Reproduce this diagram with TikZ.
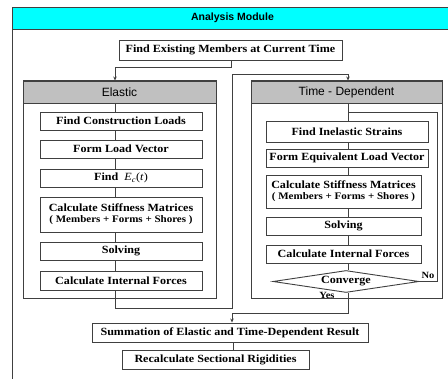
\documentclass[tikz,border=0pt]{standalone}
\usepackage{fontspec}
\setmainfont{Liberation Serif}[FakeStretch=1.1]
\newfontfamily\hdrfont{Liberation Sans}
\usetikzlibrary{arrows.meta,shapes.geometric}
\definecolor{ln}{HTML}{404040}
\definecolor{hdgray}{HTML}{C0C0C0}
\definecolor{cyanhd}{HTML}{00FFFF}
\begin{document}
\begin{tikzpicture}[x=1pt,y=-1pt,
  frame/.style={draw=ln, line width=1pt, inner sep=0pt},
  box/.style={draw=ln, line width=0.9pt, fill=white, inner sep=0pt, align=center, font=\fontsize{11}{12}\selectfont\bfseries},
  hdr/.style={draw=ln, line width=0.9pt, fill=hdgray, inner sep=0pt, font=\hdrfont\fontsize{12}{14}\selectfont},
  conn/.style={draw=ln, line width=0.8pt},
  arr/.style={conn, -{Stealth[length=4pt,width=3.5pt]}},
  lbl/.style={inner sep=0pt, font=\fontsize{9.5}{10}\selectfont\bfseries}
]
\useasboundingbox (0,0) rectangle (448,379);
\clip (0,0) rectangle (448,379);
\fill[white] (0,0) rectangle (448,379);

% outer frame and title
\node[frame, minimum width=441pt, minimum height=400pt, anchor=north west] (outer) at (12,7) {};
\node[frame, fill=cyanhd, minimum width=441pt, minimum height=22pt, anchor=north west] (title) at (12,7) {};
\node[inner sep=0pt, font=\hdrfont\bfseries\fontsize{10.5}{12}\selectfont] (titletext) at (232.5,18) {Analysis Module};

% first box
\node[box, minimum width=223pt, minimum height=20pt] (find) at (230.5,50) {Find Existing Members at Current Time};

% elastic group
\node[frame, minimum width=193pt, minimum height=218pt] (eframe) at (119.5,190) {};
\node[hdr, minimum width=193pt, minimum height=22pt] (eh) at (119.5,92) {Elastic};
\node[box, minimum width=162pt, minimum height=18pt] (e1) at (121,121) {Find Construction Loads};
\node[box, minimum width=162pt, minimum height=18pt] (e2) at (121,149) {Form Load Vector};
\node[box, minimum width=162pt, minimum height=18pt] (e3) at (121,178) {Find~~{\mdseries\itshape E}\textsubscript{\mdseries\itshape c}{\mdseries(\itshape t\/\upshape)}};
\node[box, minimum width=162pt, minimum height=35pt] (e4) at (121,214.5) {Calculate Stiffness Matrices\\[-1pt]{\fontsize{10}{11}\selectfont ( Members + Forms + Shores )}};
\node[box, minimum width=162pt, minimum height=18pt] (e5) at (121,251) {Solving};
\node[box, minimum width=162pt, minimum height=19pt] (e6) at (121,280.5) {Calculate Internal Forces};

% time-dependent group
\node[frame, minimum width=191pt, minimum height=218pt] (tframe) at (346.5,190) {};
\node[hdr, minimum width=191pt, minimum height=22pt] (th) at (346.5,92) {Time - Dependent};
\node[box, minimum width=162pt, minimum height=21pt] (t1) at (347,131.5) {Find Inelastic Strains};
\node[box, minimum width=162pt, minimum height=18pt] (t2) at (347,158) {Form Equivalent Load Vector};
\node[box, minimum width=155pt, minimum height=33pt] (t3) at (343.5,191.5) {Calculate Stiffness Matrices\\[-1pt]{\fontsize{10}{11}\selectfont ( Members + Forms + Shores )}};
\node[box, minimum width=155pt, minimum height=18pt] (t4) at (343.5,226) {Solving};
\node[box, minimum width=155pt, minimum height=18pt] (t5) at (343.5,254) {Calculate Internal Forces};
\node[box, diamond, aspect=6.6, minimum width=146pt, minimum height=22pt] (conv) at (346,281.5) {Converge};
\node[lbl] (no) at (428,275.5) {No};
\node[lbl] (yes) at (327,295.5) {Yes};

% bottom boxes
\node[box, minimum width=276pt, minimum height=19pt] (sum) at (230,332.5) {Summation of Elastic and Time-Dependent Result};
\node[box, minimum width=187pt, minimum height=19pt] (rec) at (215.5,359.5) {Recalculate Sectional Rigidities};

% helper coordinates
\coordinate (xl) at (115,0);
\coordinate (xr) at (348,0);
\coordinate (j1) at (231,67);
\coordinate (m1) at (232,308);
\coordinate (m2) at (232,74);
\coordinate (n1) at (437,112);
\coordinate (y1) at (348,313);
\coordinate (y2) at (232,313);
\coordinate (xs) at (233,0);

% connectors
\draw[arr] (find.south -| j1) -- (j1) -| (eh.north -| xl);
\draw[conn] (eh.south -| xl) -- (e1.north -| xl);
\draw[conn] (e1.south -| xl) -- (e2.north -| xl);
\draw[conn] (e2.south -| xl) -- (e3.north -| xl);
\draw[conn] (e3.south -| xl) -- (e4.north -| xl);
\draw[conn] (e4.south -| xl) -- (e5.north -| xl);
\draw[conn] (e5.south -| xl) -- (e6.north -| xl);
\draw[arr] (e6.south -| xl) |- (m1) -- (m2) -| (th.north -| xr);
\draw[conn] (th.south -| xr) -- (t1.north -| xr);
\draw[conn] (t1.south -| xr) -- (t2.north -| xr);
\draw[conn] (t2.south -| xr) -- (t3.north -| xr);
\draw[conn] (t3.south -| xr) -- (t4.north -| xr);
\draw[conn] (t4.south -| xr) -- (t5.north -| xr);
\draw[conn] (t5.south -| xr) -- (conv.north -| xr);
\draw[conn] (conv.east) -| (n1) -- (n1 -| xr);
\draw[arr] (conv.south -| xr) -- (y1) -- (y2) -- (sum.north -| y2);
\draw[conn] (sum.south -| xs) -- (rec.north -| xs);
\end{tikzpicture}
\end{document}
